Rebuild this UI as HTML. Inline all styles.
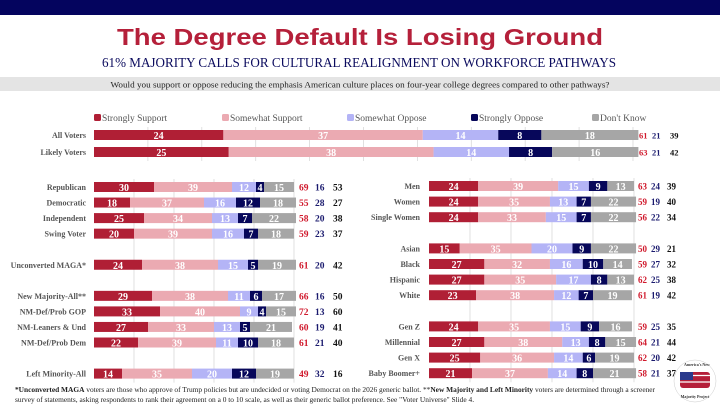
<!DOCTYPE html>
<html><head><meta charset="utf-8">
<style>
html,body{margin:0;padding:0;background:#fff;}
svg{display:block;}
text{font-family:"Liberation Serif",serif;}
</style></head>
<body>
<svg id="chart" width="720" height="405" viewBox="0 0 720 405" xmlns="http://www.w3.org/2000/svg">
<rect x="0" y="0" width="720" height="15" fill="#04045e"/>
<text x="360" y="45" text-anchor="middle" font-weight="bold" font-size="23" fill="#b5203a" textLength="486" lengthAdjust="spacingAndGlyphs" style="font-family:'Liberation Sans',sans-serif">The Degree Default Is Losing Ground</text>
<text x="359" y="67" text-anchor="middle" font-size="14" fill="#0b0b5e" textLength="514" lengthAdjust="spacingAndGlyphs">61% MAJORITY CALLS FOR CULTURAL REALIGNMENT ON WORKFORCE PATHWAYS</text>
<rect x="0" y="77" width="720" height="14" fill="#e4e4e4"/>
<text x="360" y="87.5" text-anchor="middle" font-size="8.5" fill="#222" textLength="499" lengthAdjust="spacingAndGlyphs">Would you support or oppose reducing the emphasis American culture places on four-year college degrees compared to other pathways?</text>
<g id="legend"></g>
<g id="plots"></g>
<text x="15" y="392" font-size="7.4" fill="#222" textLength="640"><tspan font-weight="bold">*Unconverted MAGA</tspan> voters are those who approve of Trump policies but are undecided or voting Democrat on the 2026 generic ballot. **<tspan font-weight="bold">New Majority and Left Minority</tspan> voters are determined through a screener</text>
<text x="15" y="402" font-size="7.4" fill="#222">survey of statements, asking respondents to rank their agreement on a 0 to 10 scale, as well as their generic ballot preference. See "Voter Universe" Slide 4.</text>
<g>
<circle cx="695" cy="381" r="21" fill="#fff" stroke="#ccc" stroke-width="0.5"/>
<rect x="680" y="372" width="30" height="16" rx="3" fill="#b5203a"/>
<rect x="680" y="372" width="13" height="8" fill="#2a3a8c"/>
<line x1="693" y1="375.5" x2="710" y2="375.5" stroke="#fff" stroke-width="1.3"/>
<line x1="680" y1="382" x2="710" y2="382" stroke="#fff" stroke-width="1.3"/>
<text x="697" y="366" text-anchor="middle" font-size="4" fill="#333" font-weight="bold">America's New</text>
<text x="695" y="398" text-anchor="middle" font-size="4" fill="#333" font-weight="bold">Majority Project</text>
</g>
</svg>
<script>
const legendNames = ["Strongly Support","Somewhat Support","Somewhat Oppose","Strongly Oppose","Don't Know"];
const colors = ["#b01f35","#ebaab2","#b4b4f6","#07075a","#a6a6a6"];
const topLabels = ["All Voters","Likely Voters"];
const topValues = [[24,37,14,8,18],[25,38,14,8,16]];
const topTotals = [[61,21,39],[63,21,42]];
const leftLabels = ["Republican","Democratic","Independent","Swing Voter","Unconverted MAGA*","New Majority-All**","NM-Def/Prob GOP","NM-Leaners & Und","NM-Def/Prob Dem","Left Minority-All"];
const leftValues = [[30,39,12,4,15],[18,37,16,12,18],[25,34,13,7,22],[20,39,16,7,18],[24,38,15,5,19],[29,38,11,6,17],[33,40,9,4,15],[27,33,13,5,21],[22,39,11,10,18],[14,35,20,12,19]];
const leftTotals = [[69,16,53],[55,28,27],[58,20,38],[59,23,37],[61,20,42],[66,16,50],[72,13,60],[60,19,41],[61,21,40],[49,32,16]];
const leftRows = [0,1,2,3,5,7,8,9,10,12];
const rightLabels = ["Men","Women","Single Women","Asian","Black","Hispanic","White","Gen Z","Millennial","Gen X","Baby Boomer+"];
const rightValues = [[24,39,15,9,13],[24,35,13,7,22],[24,33,15,7,22],[15,35,20,9,22],[27,32,16,10,14],[27,35,17,8,13],[23,38,12,7,19],[24,35,15,9,16],[27,38,13,8,15],[25,36,14,6,19],[21,37,14,8,21]];
const rightTotals = [[63,24,39],[59,19,40],[56,22,34],[50,29,21],[59,27,32],[62,25,38],[61,19,42],[59,25,35],[64,21,44],[62,20,42],[58,21,37]];
const rightRows = [0,1,2,4,5,6,7,9,10,11,12];

const NS="http://www.w3.org/2000/svg";
function mk(tag,attrs,parent){const e=document.createElementNS(NS,tag);for(const k in attrs)e.setAttribute(k,attrs[k]);parent.appendChild(e);return e;}

const legend=document.getElementById('legend');
const legX=[94,222,347,471,592];
legendNames.forEach((n,i)=>{
  const g=mk('g',{},legend);
  
  
  mk('rect',{x:legX[i],y:114,width:7,height:7,rx:1.5,fill:colors[i]},g);
  const t=mk('text',{x:legX[i]+8,y:121,'font-size':9.5,fill:'#555'},g);
  t.textContent=n;
});

const plots=document.getElementById('plots');
function panel(name,labels,values,totals,rowIdx,x0,w,y0,step,gridStep,labelX,totX,totSize){
  const g=mk('g',{},plots);
  
  
  const xs=v=>x0+v/100*w;
  const yTop=y0-8, yBot=y0+rowIdx[rowIdx.length-1]*step+9;
  for(let v=gridStep;v<=100;v+=gridStep){
    const l=mk('line',{x1:xs(v),x2:xs(v),y1:yTop,y2:yBot,stroke:'#d8d8d8','stroke-width':0.8},g);
    
    
  }
  labels.forEach((lab,r)=>{
    const yc=y0+rowIdx[r]*step;
    const t=mk('text',{x:labelX,y:yc+3,'text-anchor':'end','font-size':8,'font-weight':'bold',fill:'#555'},g);
    
    
    t.textContent=lab;
    let acc=0;
    values[r].forEach((v,k)=>{
      const rc=mk('rect',{x:xs(acc),y:yc-5,width:xs(acc+v)-xs(acc),height:10,fill:colors[k]},g);
      
      
      const tv=mk('text',{x:(xs(acc)+xs(acc+v))/2,y:yc+4,'text-anchor':'middle','font-size':10,'font-weight':'bold',fill:'#fff'},g);
      
      
      tv.textContent=v;
      acc+=v;
    });
    const tc=['#d0192c','#1a1a6e','#111'];
    totals[r].forEach((v,k)=>{
      const tt=mk('text',{x:totX[k],y:yc+3.5,'text-anchor':'start','font-size':totSize,'font-weight':'bold',fill:tc[k]},g);
      
      
      tt.textContent=v;
    });
  });
}
panel('top-chart',topLabels,topValues,topTotals,[0,1],94,539,135,17,10,86,[639,652,670],8.5);
panel('left-chart',leftLabels,leftValues,leftTotals,leftRows,94,200,187,15.55,20,86,[299,315,333],9.5);
panel('right-chart',rightLabels,rightValues,rightTotals,rightRows,429,205,186,15.6,20,420,[638,651,667],9);
</script>
</body></html>
